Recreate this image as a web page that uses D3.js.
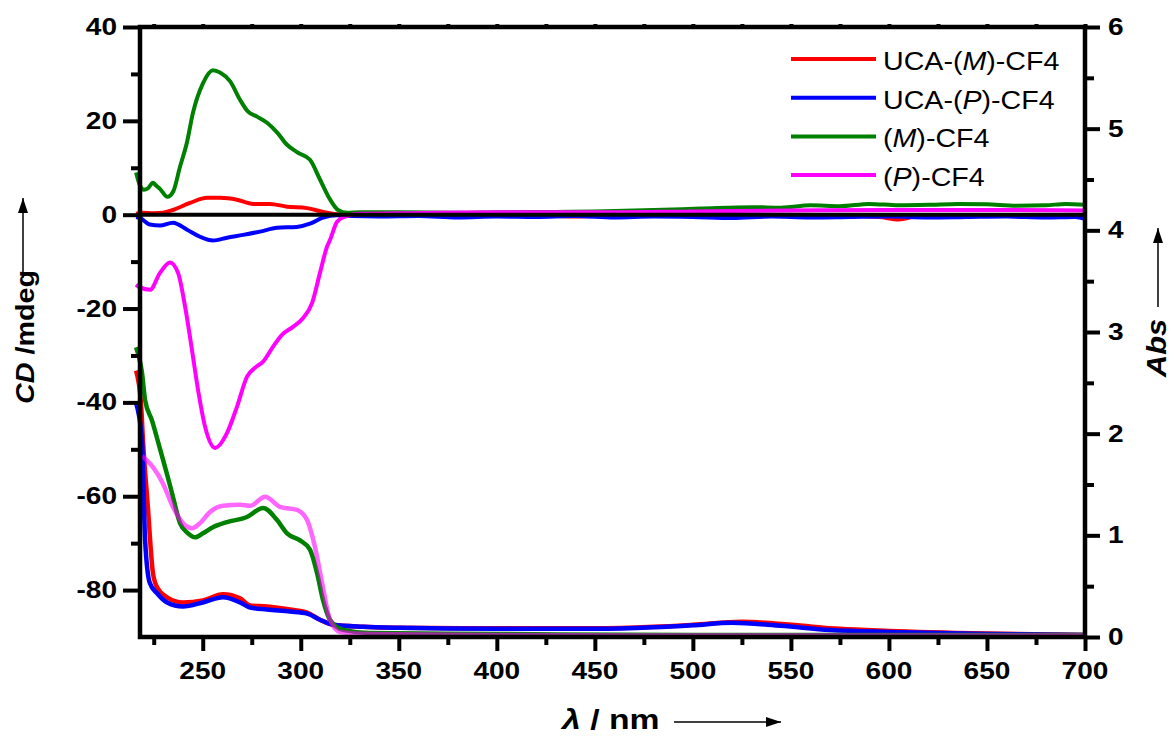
<!DOCTYPE html>
<html>
<head>
<meta charset="utf-8">
<script src="https://cdn.jsdelivr.net/npm/d3@7"></script>
<style>
  body { margin: 0; background: #fff; }
  text { font-family: "Liberation Sans", Arial, sans-serif; }
</style>
</head>
<body>
<div id="chart"></div>
<script>
// CD spectra, [wavelength nm, CD mdeg]
const cdRed = [[216,0.2],[219.5,0.4],[225,0.3],[229.7,0.4],[234.8,1.0],[243.5,2.5],[252.2,3.6],[258.8,3.6],[267.5,3.2],[275.7,2.3],[284.3,2.3],[293,1.7],[303.2,1.4],[311.4,0.6],[318.5,0.1],[326,-0.1],[340,-0.2],[360,-0.3],[380,-0.1],[400,-0.3],[420,-0.2],[440,-0.4],[460,-0.2],[480,-0.3],[500,-0.2],[520,-0.5],[540,-0.3],[560,-0.4],[580,-0.3],[595,-0.5],[605,-1.0],[615,-0.3],[630,-0.5],[650,-0.2],[670,-0.4],[690,-0.3],[700,-0.2]];
const cdBlue = [[216,-0.5],[218,-0.7],[223.1,-2.1],[228.2,-2.3],[234.8,-1.7],[242,-3.2],[248.6,-4.7],[255.2,-5.5],[262.4,-4.9],[270.6,-4.3],[279.2,-3.6],[287.9,-2.8],[298,-2.6],[304.7,-1.9],[311.4,-0.6],[318.5,-0.1],[326,-0.3],[340,-0.4],[360,-0.3],[380,-0.6],[400,-0.4],[420,-0.5],[440,-0.3],[460,-0.6],[480,-0.4],[500,-0.5],[520,-0.7],[540,-0.4],[560,-0.6],[580,-0.5],[600,-0.4],[620,-0.6],[640,-0.5],[660,-0.4],[680,-0.6],[695,-0.5],[700,-0.9]];
const cdGreen = [[216,9],[218,6.2],[220,5.3],[222,5.6],[224.6,6.8],[226,6.3],[228.2,5.5],[232,3.8],[235,5.0],[238.4,10.2],[242,15.5],[245,21.7],[250.1,28],[255.2,30.8],[258.8,30.3],[264,28.4],[269,24.5],[273,22],[277.7,20.9],[282.8,19.6],[288,17.5],[293,14.9],[298.6,13.2],[304.7,11.7],[309.8,7.5],[315,3.2],[319,1.0],[323.6,0.4],[330,0.5],[350,0.5],[380,0.4],[400,0.5],[430,0.6],[450,0.7],[480,1.0],[504,1.3],[530,1.6],[545,1.5],[560,2.0],[575,1.8],[590,2.3],[605,2.0],[620,2.1],[635,2.3],[650,2.2],[665,1.9],[680,2.0],[690,2.3],[700,2.1]];
const cdMagenta = [[216,-14.9],[218,-15.5],[223.1,-16],[228.2,-12.4],[233.3,-10.2],[237.4,-12.4],[241,-19.6],[244.5,-28.8],[247.6,-37.3],[251.2,-45.2],[256.3,-49.7],[262.4,-46.5],[267.5,-40.9],[272.6,-34.5],[276.7,-32.6],[280.8,-31.3],[285.9,-28.1],[290.4,-25.6],[296,-23.9],[301.2,-22],[305.8,-18.8],[309.8,-12.4],[313.4,-6.8],[315,-5.3],[318.5,-1.5],[322.6,-0.4],[330,0.2],[350,0.3],[400,0.5],[450,0.5],[500,0.7],[550,0.9],[600,1.0],[650,1.0],[700,0.9]];

// UV-vis absorbance, [wavelength nm, Abs]
const absRed = [[216,2.62],[218.5,2.3],[219.5,1.94],[222,1.28],[224.6,0.63],[226.7,0.49],[231.8,0.39],[239.9,0.34],[250.1,0.36],[260.3,0.42],[269,0.38],[274.1,0.31],[282.8,0.30],[294.5,0.27],[303.2,0.24],[309.8,0.17],[316.5,0.12],[331.8,0.1],[350,0.09],[400,0.085],[450,0.085],[480,0.1],[500,0.12],[525,0.15],[550,0.12],[575,0.08],[600,0.06],[650,0.035],[700,0.02]];
const absBlue = [[216,2.3],[219,1.94],[220.6,0.95],[223,0.53],[226.7,0.43],[231.8,0.34],[239.9,0.30],[250.1,0.34],[260.3,0.39],[269,0.34],[274.1,0.29],[282.8,0.27],[294.5,0.25],[303.2,0.23],[309.8,0.17],[316.5,0.12],[331.8,0.1],[350,0.09],[400,0.08],[450,0.08],[480,0.095],[500,0.115],[520,0.14],[545,0.11],[570,0.07],[600,0.05],[650,0.03],[700,0.02]];
const absGreen = [[216,2.85],[219,2.6],[220.6,2.33],[224.1,2.13],[228.2,1.85],[231.8,1.6],[234.8,1.38],[238.4,1.12],[242.5,1.02],[246.1,0.98],[250.1,1.02],[255.2,1.08],[262.4,1.13],[272.6,1.18],[280.8,1.27],[287.9,1.15],[293,1.02],[299.6,0.95],[304.7,0.86],[308.3,0.63],[311.4,0.36],[314.9,0.17],[321.6,0.07],[335,0.04],[400,0.03],[500,0.02],[600,0.02],[700,0.02]];
const absMagenta = [[219,1.78],[224.6,1.67],[229.7,1.51],[234.8,1.28],[239.9,1.12],[244.5,1.07],[248.6,1.12],[253.7,1.23],[260.3,1.29],[269,1.30],[274.1,1.29],[281.8,1.38],[289.4,1.28],[298.1,1.25],[303.2,1.15],[307.3,0.88],[310.9,0.53],[314.9,0.17],[320,0.05],[335,0.03],[400,0.02],[500,0.015],[600,0.015],[700,0.015]];

const legendNames = [["UCA-(", "M", ")-CF4"], ["UCA-(", "P", ")-CF4"], ["(", "M", ")-CF4"], ["(", "P", ")-CF4"]];
const colors = ["#ff0000", "#0000ff", "#008000", "#ff00ff"];

const xMajor = [250, 300, 350, 400, 450, 500, 550, 600, 650, 700];
const xMinor = [225, 275, 325, 375, 425, 475, 525, 575, 625, 675];
const cdMajor = [-80, -60, -40, -20, 0, 20, 40];
const cdMinor = [-70, -50, -30, -10, 10, 30];
const absMajor = [0, 1, 2, 3, 4, 5, 6];
const absMinor = [0.5, 1.5, 2.5, 3.5, 4.5, 5.5];

const width = 1174, height = 736;
const margin = {top: 27, right: 89, bottom: 99, left: 140};

const svg = d3.select("#chart")
  .append("svg")
  .attr("width", width)
  .attr("height", height);

const x = d3.scaleLinear()
  .domain([218, 700])
  .range([margin.left, width - margin.right]);

const yCD = d3.scaleLinear()
  .domain([-90, 40])
  .range([height - margin.bottom, margin.top]);

const yAbs = d3.scaleLinear()
  .domain([0, 6])
  .range([height - margin.bottom, margin.top]);

const lineOn = yScale => d3.line()
  .x(d => x(d[0]))
  .y(d => yScale(d[1]))
  .curve(d3.curveMonotoneX);

// absorbance curves
[[absRed, colors[0], 1], [absBlue, colors[1], 1], [absGreen, colors[2], 1], [absMagenta, colors[3], 0.6]]
  .forEach(([data, c, op]) => {
    svg.append("path")
      .datum(data)
      .attr("d", lineOn(yAbs))
      .attr("fill", "none")
      .attr("stroke", c)
      .attr("stroke-opacity", op)
      .attr("stroke-width", 4.5);
  });

// CD curves
[cdRed, cdBlue, cdGreen, cdMagenta].forEach((data, i) => {
  svg.append("path")
    .datum(data)
    .attr("d", lineOn(yCD))
    .attr("fill", "none")
    .attr("stroke", colors[i])
    .attr("stroke-width", 4);
});

// zero line
svg.append("line")
  .attr("x1", x(218)).attr("x2", x(700))
  .attr("y1", yCD(0)).attr("y2", yCD(0))
  .attr("stroke", "#000").attr("stroke-width", 4);

// ticks
function ticks(axis, tr) {
  svg.append("g")
    .attr("transform", tr)
    .call(axis.tickFormat(""))
    .call(g => g.select(".domain").remove())
    .call(g => g.selectAll("line").attr("stroke", "#000").attr("stroke-width", 4));
}
ticks(d3.axisLeft(yCD).tickValues(cdMajor).tickSize(17), `translate(${margin.left},0)`);
ticks(d3.axisLeft(yCD).tickValues(cdMinor).tickSize(9), `translate(${margin.left},0)`);
ticks(d3.axisRight(yAbs).tickValues(absMajor).tickSize(15), `translate(${width - margin.right},0)`);
ticks(d3.axisRight(yAbs).tickValues(absMinor).tickSize(9), `translate(${width - margin.right},0)`);
ticks(d3.axisBottom(x).tickValues(xMajor).tickSize(14), `translate(0,${height - margin.bottom})`);
ticks(d3.axisBottom(x).tickValues(xMinor).tickSize(8), `translate(0,${height - margin.bottom})`);
ticks(d3.axisTop(x).tickValues(xMajor.concat(xMinor)).tickSize(3), `translate(0,${margin.top})`);

// frame
svg.append("rect")
  .attr("x", margin.left).attr("y", margin.top)
  .attr("width", width - margin.right - margin.left)
  .attr("height", height - margin.bottom - margin.top)
  .attr("fill", "none")
  .attr("stroke", "#000")
  .attr("stroke-width", 4.5);

// tick labels
const tickFont = 23, stretch = 1.22;
svg.selectAll(".lbl-cd").data(cdMajor).join("text")
  .attr("transform", d => `translate(117,${yCD(d) + 8}) scale(${stretch},1)`)
  .attr("text-anchor", "end")
  .style("font-size", tickFont + "px").style("font-weight", "bold")
  .text(d => d);
svg.selectAll(".lbl-abs").data(absMajor).join("text")
  .attr("transform", d => `translate(1108,${yAbs(d) + 8}) scale(${stretch},1)`)
  .style("font-size", tickFont + "px").style("font-weight", "bold")
  .text(d => d);
svg.selectAll(".lbl-x").data(xMajor).join("text")
  .attr("transform", d => `translate(${x(d)},679) scale(${stretch},1)`)
  .attr("text-anchor", "middle")
  .style("font-size", tickFont + "px").style("font-weight", "bold")
  .text(d => d);

// legend
legendNames.forEach((parts, i) => {
  const ly = 59 + i * 38.7;
  svg.append("line")
    .attr("x1", 791).attr("x2", 876)
    .attr("y1", ly).attr("y2", ly)
    .attr("stroke", colors[i]).attr("stroke-width", 4);
  const t = svg.append("text")
    .attr("transform", `translate(883,${ly + 11}) scale(1.1,1)`)
    .style("font-size", "26px");
  t.append("tspan").text(parts[0]);
  t.append("tspan").style("font-style", "italic").text(parts[1]);
  t.append("tspan").text(parts[2]);
});

// axis titles
function arrow(x1, y1, x2, y2) {
  svg.append("line")
    .attr("x1", x1).attr("y1", y1).attr("x2", x2).attr("y2", y2)
    .attr("stroke", "#000").attr("stroke-width", 1.5);
  const a = Math.atan2(y2 - y1, x2 - x1), L = 15, w = 5;
  const bx = x2 - L * Math.cos(a), by = y2 - L * Math.sin(a);
  svg.append("polygon")
    .attr("points", [[x2, y2], [bx + w * Math.sin(a), by - w * Math.cos(a)], [bx - w * Math.sin(a), by + w * Math.cos(a)]].join(" "))
    .attr("fill", "#000");
}

const cdTitle = svg.append("text")
  .attr("transform", "translate(34,337) rotate(-90) scale(1.15,1)")
  .attr("text-anchor", "middle")
  .style("font-size", "25px").style("font-weight", "bold");
cdTitle.append("tspan").style("font-style", "italic").text("CD");
cdTitle.append("tspan").text(" /mdeg");
arrow(23, 278, 23, 198);

svg.append("text")
  .attr("transform", "translate(1166,348) rotate(-90) scale(1.1,1)")
  .attr("text-anchor", "middle")
  .style("font-size", "28px").style("font-weight", "bold").style("font-style", "italic")
  .text("Abs");
arrow(1158, 307, 1158, 228);

const xTitle = svg.append("text")
  .attr("transform", "translate(562,729) scale(1.25,1)")
  .style("font-size", "27px").style("font-weight", "bold");
xTitle.append("tspan").style("font-style", "italic").text("λ");
xTitle.append("tspan").text(" / nm");
arrow(674, 722, 781, 722);
</script>
</body>
</html>
